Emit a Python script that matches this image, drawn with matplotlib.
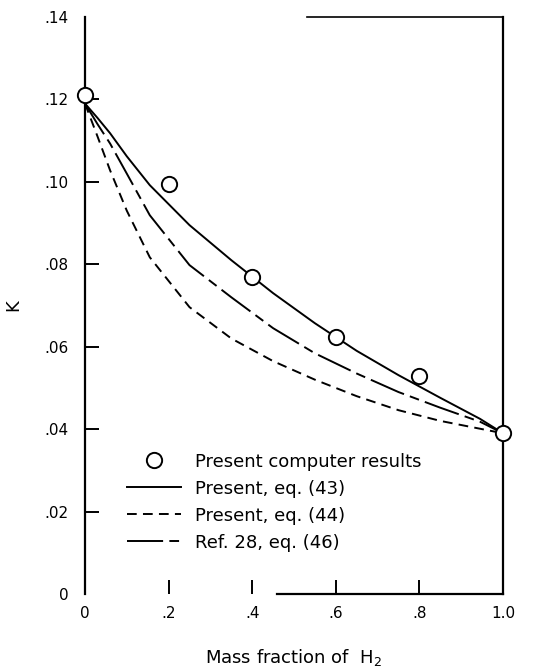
import numpy as np
import matplotlib
matplotlib.use("Agg")
import matplotlib.pyplot as plt

# computer results (circles)
pts_x = [0.0, 0.2, 0.4, 0.6, 0.8, 1.0]
pts_k = [0.121, 0.0996, 0.0768, 0.0623, 0.0528, 0.039]

# curves
curve_x = [0.0, 0.03, 0.06, 0.10, 0.155, 0.25, 0.35, 0.45, 0.55, 0.65, 0.75, 0.85, 0.945, 1.0]
k_eq43 = [0.119, 0.1155, 0.1118, 0.1062, 0.0992, 0.0895, 0.0810, 0.0730, 0.0657, 0.0590, 0.0531, 0.0476, 0.0425, 0.039]
k_eq44 = [0.119, 0.1110, 0.1028, 0.0930, 0.0817, 0.0696, 0.0620, 0.0565, 0.0520, 0.0480, 0.0446, 0.0420, 0.0401, 0.039]
k_eq46 = [0.119, 0.1140, 0.1093, 0.1020, 0.0919, 0.0798, 0.0720, 0.0645, 0.0584, 0.0535, 0.0490, 0.0452, 0.0418, 0.039]

x_ticks = [0, 0.2, 0.4, 0.6, 0.8, 1.0]
x_labels = ["0", ".2", ".4", ".6", ".8", "1.0"]
y_ticks = [0, 0.02, 0.04, 0.06, 0.08, 0.10, 0.12, 0.14]
y_labels = ["0", ".02", ".04", ".06", ".08", ".10", ".12", ".14"]

plt.rcParams['lines.scale_dashes'] = False
plt.rcParams['font.family'] = ['DejaVu Sans']

fig = plt.figure(figsize=(5.36, 6.69), dpi=100)
ax = fig.add_axes([85 / 536, 1 - 594 / 669, 418 / 536, 577 / 669])
ax.set_xlim(0, 1.0)
ax.set_ylim(0, 0.14)

ax.plot(curve_x, k_eq43, color='black', lw=1.4, label='Present, eq. (43)', zorder=2)
ax.plot(curve_x, k_eq44, color='black', lw=1.4, dashes=(7, 4.5), label='Present, eq. (44)', zorder=2)
ax.plot(curve_x, k_eq46, color='black', lw=1.4, dashes=(26, 4.5, 7, 4.5), label='Ref. 28, eq. (46)', zorder=2)
ax.plot(pts_x, pts_k, linestyle='none', marker='o', markersize=11, markerfacecolor='white',
        markeredgecolor='black', markeredgewidth=1.4, label='Present computer results', zorder=3, clip_on=False)

# reorder so circles come first in the legend
h, l = ax.get_legend_handles_labels()
order = [3, 0, 1, 2]
ax.legend([h[i] for i in order], [l[i] for i in order], loc='upper left',
          bbox_to_anchor=(0.10, 0.245), frameon=False, fontsize=13,
          handlelength=3.0, handletextpad=0.8, labelspacing=0.5, borderpad=0, borderaxespad=0)

ax.set_xticks(x_ticks)
ax.set_xticklabels(x_labels)
ax.set_yticks(y_ticks)
ax.set_yticklabels(y_labels)
ax.tick_params(axis='x', direction='in', length=10, width=1.4, pad=9, labelsize=11)
ax.tick_params(axis='y', direction='in', length=10, width=1.4, pad=12, labelsize=11)
for t in [ax.xaxis.get_major_ticks()[0], ax.xaxis.get_major_ticks()[-1],
          ax.yaxis.get_major_ticks()[0], ax.yaxis.get_major_ticks()[-1]]:
    t.tick1line.set_visible(False)

for s in ax.spines.values():
    s.set_linewidth(1.6)
ax.spines['bottom'].set_bounds(0.46, 1.0)
ax.spines['top'].set_bounds(0.53, 1.0)
ax.spines['top'].set_linewidth(1.2)

ax.set_xlabel('Mass fraction of  H$_2$', fontsize=13, labelpad=18)
ax.set_ylabel('K', fontsize=13, labelpad=16)

fig.savefig('out.png', dpi=100)
